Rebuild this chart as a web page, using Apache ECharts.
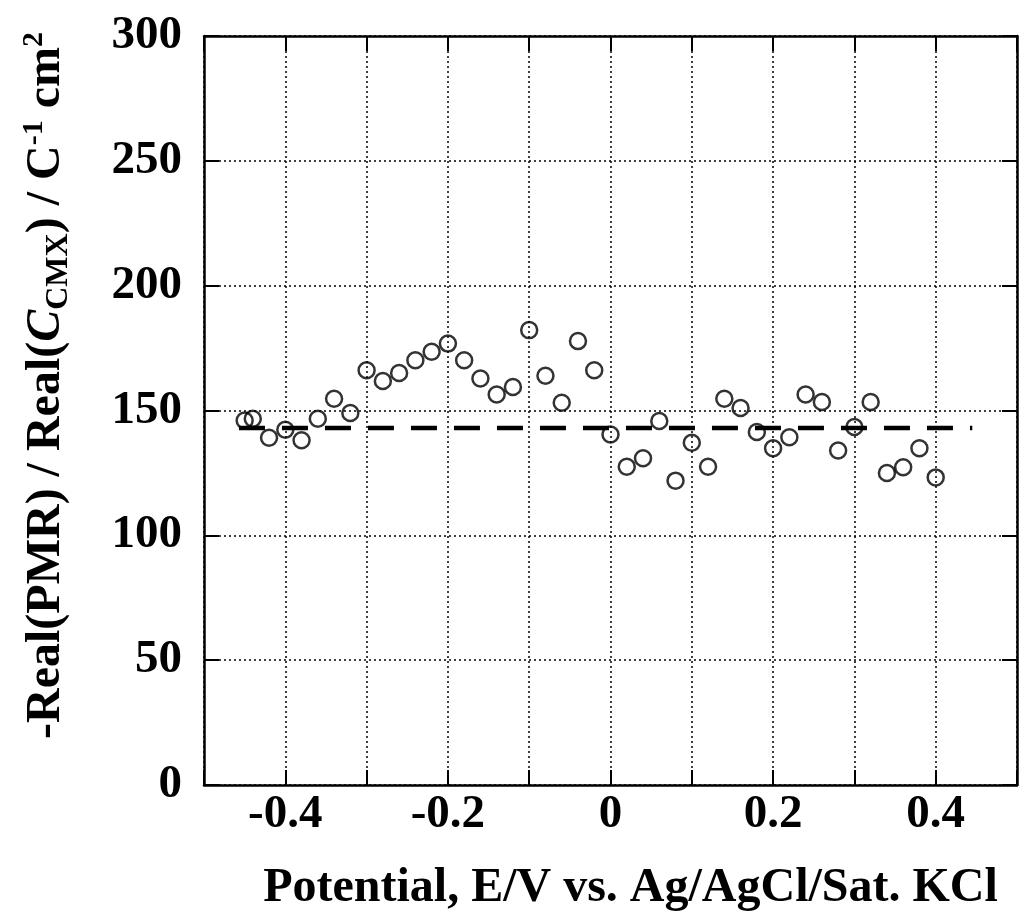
<!DOCTYPE html>
<html><head><meta charset="utf-8">
<script src="https://cdn.jsdelivr.net/npm/echarts@6/dist/echarts.min.js"></script>
<style>html,body{margin:0;padding:0;background:#fff}#c{width:1020px;height:918px}</style>
</head><body><div id="c"></div>
<script>
var potentials = [-0.45,-0.44,-0.42,-0.40,-0.38,-0.36,-0.34,-0.32,-0.30,-0.28,-0.26,-0.24,-0.22,-0.20,-0.18,-0.16,-0.14,-0.12,-0.10,-0.08,-0.06,-0.04,-0.02,0.00,0.02,0.04,0.06,0.08,0.10,0.12,0.14,0.16,0.18,0.20,0.22,0.24,0.26,0.28,0.30,0.32,0.34,0.36,0.38,0.40];
var ratios = [146.0,146.7,139.1,142.3,138.1,146.7,154.7,149.0,166.1,161.8,165.0,170.1,173.5,176.8,170.1,162.8,156.4,159.4,182.2,163.9,153.1,177.8,166.1,140.4,127.5,130.9,145.8,121.9,137.1,127.5,154.7,151.0,141.4,134.9,139.3,156.4,153.4,134.0,143.4,153.4,125.0,127.3,134.9,123.2];
var meanLineX = [-0.457, 0.445];
var meanValue = 143;
var xTickLabels = ['-0.4','-0.2','0','0.2','0.4'];

var font = 'Liberation Serif';
var pts = potentials.map(function(x,i){return [x, ratios[i]];});
var meanLine = meanLineX.map(function(x){return [x, meanValue];});

var chart = echarts.init(document.getElementById('c'), null, {renderer:'canvas'});
var lblStyle = {fontFamily:font, fontWeight:'bold', fontSize:47, color:'#000'};
var frameLine = {show:true, onZero:false, lineStyle:{color:'#000', width:2.5}};
var frameTick = {show:true, inside:true, length:15, lineStyle:{color:'#000', width:2}};
var gridLine = {show:true, lineStyle:{color:'#000', width:1.5, type:[2,3]}};
chart.setOption({
  animation:false,
  backgroundColor:'#fff',
  grid:{left:204, right:3, top:36, bottom:133},
  xAxis:[{
    type:'value', min:-0.5, max:0.5, interval:0.1, position:'bottom',
    axisLine:frameLine, axisTick:frameTick, splitLine:gridLine,
    axisLabel:Object.assign({margin:6, formatter:function(v){
      var s = (Math.round(v*10)/10);
      var str = s===0 ? '0' : s.toFixed(1);
      return xTickLabels.indexOf(str)>=0 ? str : '';
    }}, lblStyle),
    name:'Potential, E/V vs. Ag/AgCl/Sat. KCl', nameLocation:'middle', nameGap:80,
    nameTextStyle:{fontFamily:font, fontWeight:'bold', fontSize:48, color:'#000', padding:[0,0,0,40]}
  },{
    type:'value', min:-0.5, max:0.5, interval:0.1, position:'top',
    axisLine:frameLine, axisTick:frameTick,
    splitLine:{show:false}, axisLabel:{show:false}
  }],
  yAxis:[{
    type:'value', min:0, max:300, interval:50, position:'left',
    axisLine:frameLine, axisTick:frameTick, splitLine:gridLine,
    axisLabel:Object.assign({margin:22}, lblStyle),
    name:'-Real(PMR) / Real({it|C}{sub|CMX}) / C{sup|-1} cm{sup|2}',
    nameLocation:'middle', nameGap:129, nameRotate:90,
    nameTextStyle:{fontFamily:font, fontWeight:'bold', fontSize:48, color:'#000', lineHeight:56, padding:[0,0,0,50],
      rich:{
        it:{fontFamily:font, fontWeight:'bold', fontStyle:'italic', fontSize:48, color:'#000', lineHeight:56},
        sub:{fontFamily:font, fontWeight:'bold', fontSize:32, color:'#000', verticalAlign:'bottom', lineHeight:8},
        sup:{fontFamily:font, fontWeight:'bold', fontSize:30, color:'#000', verticalAlign:'top', lineHeight:30}
      }}
  },{
    type:'value', min:0, max:300, interval:50, position:'right',
    axisLine:frameLine, axisTick:frameTick,
    splitLine:{show:false}, axisLabel:{show:false}
  }],
  series:[{
    type:'line', data:meanLine, symbol:'none', silent:true,
    lineStyle:{color:'#000', width:4.5, type:[26,17]}
  },{
    type:'scatter', data:pts, symbol:'circle', symbolSize:16,
    itemStyle:{color:'rgba(0,0,0,0)', borderColor:'#000', borderWidth:2.5}
  }]
});
</script></body></html>
